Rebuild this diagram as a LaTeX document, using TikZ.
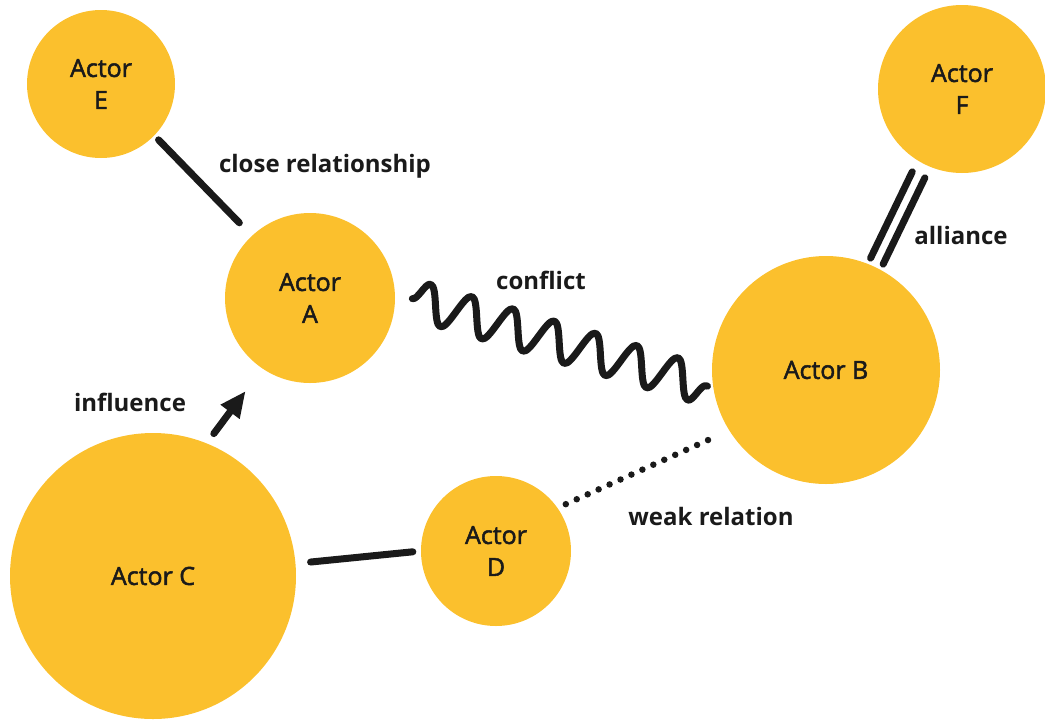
\documentclass[tikz,border=0pt]{standalone}
\usepackage{fontspec}
\setmainfont{Open Sans}
\newfontfamily\actorfont[FakeBold=2]{Open Sans}
\usetikzlibrary{calc,decorations.pathmorphing,arrows.meta}
\definecolor{actoryellow}{RGB}{251,192,45}
\definecolor{inkblack}{RGB}{26,26,26}
\tikzset{
  actor/.style={circle,fill=actoryellow,inner sep=0pt,align=center,text=inkblack,
    font=\actorfont\fontsize{25}{32}\selectfont},
  tie/.style={draw=inkblack,line width=7pt,line cap=round,line join=round},
  weak/.style={tie,line width=6.5pt,dash pattern=on 0pt off 12pt},
  rel/.style={text=inkblack,font=\bfseries\fontsize{24}{28}\selectfont},
}
\begin{document}
\begin{tikzpicture}[x=1pt,y=-1pt]
\useasboundingbox (0,0) rectangle (1045,721);
% actors
\node[actor,minimum size=148pt] (E) at (101,84) {Actor\\E};
\node[actor,minimum size=170pt] (A) at (310,298) {Actor\\A};
\node[actor,minimum size=168pt] (F) at (962,89) {Actor\\F};
\node[actor,minimum size=228pt] (B) at (826,370) {Actor B};
\node[actor,minimum size=286pt] (C) at (153,576) {Actor C};
\node[actor,minimum size=150pt] (D) at (496,551) {Actor\\D};
% ties
\draw[tie,shorten <=6pt,shorten >=18pt] (E.-44) -- (A.133);
\draw[tie,-{Triangle[length=26pt,width=22pt]},shorten <=12pt,shorten >=28pt] (C.68) -- (A.236);
\draw[tie,decorate,decoration={snake,amplitude=19pt,segment length=43pt}]
  ($(A.3)!18pt!(B.189)$) -- ($(B.189)!6pt!(A.3)$);
\draw[tie,shorten <=6pt,shorten >=12pt] ([xshift=-6.3pt,yshift=3pt]B.65) -- ([xshift=-6.3pt,yshift=3pt]F.243);
\draw[tie,shorten <=6pt,shorten >=12pt] ([xshift=6.3pt,yshift=-3pt]B.65) -- ([xshift=6.3pt,yshift=-3pt]F.243);
\draw[tie,shorten <=15pt,shorten >=8pt] (C.5) -- (D.180);
\draw[weak,shorten <=9pt,shorten >=14pt] (D.35) -- (B.212);
% labels
\node[rel] (lclose) at (325,166) {close relationship};
\node[rel] (lconflict) at (541,280) {conflict};
\node[rel] (lalliance) at (961,235) {alliance};
\node[rel] (linfluence) at (130,402) {influence};
\node[rel] (lweak) at (711,516) {weak relation};
\end{tikzpicture}
\end{document}
